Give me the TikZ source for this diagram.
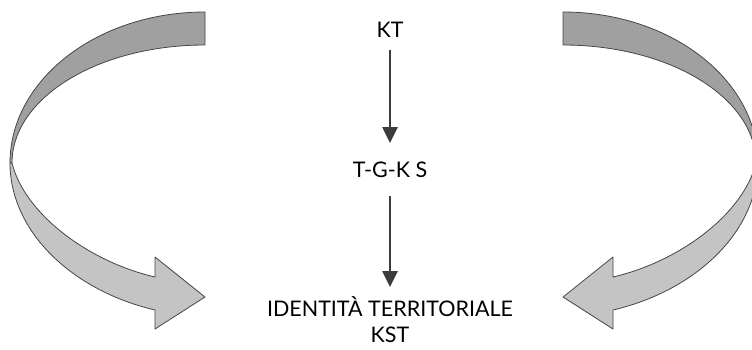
\documentclass[tikz,border=0pt]{standalone}
\usepackage{fontspec}
\setmainfont{Lato}
\usetikzlibrary{arrows.meta}
\definecolor{darkband}{HTML}{A0A0A0}
\definecolor{lightband}{HTML}{C4C4C4}
\definecolor{edge}{HTML}{454545}
\definecolor{arr}{HTML}{3C3C3C}
\tikzset{
  band/.style={draw=edge, line width=0.8pt, line join=round},
  label/.style={font=\fontsize{21.5}{26}\selectfont, text=black, align=center, inner sep=0pt},
  flow/.style={draw=arr, line width=2.6pt, -{Triangle[width=15pt,length=16pt]}}
}
\begin{document}
\begin{tikzpicture}[x=1pt,y=-1pt]
\useasboundingbox (0,0) rectangle (752,349);
\clip (0,0) rectangle (752,349);
% left curved arrow
\path[band, fill=darkband] (205,12) .. controls (97,12) and (10,80) .. (10,163)
  -- (12,163) .. controls (12,98) and (98,45) .. (205,45) -- cycle;
\path[band, fill=lightband] (12,163) .. controls (25,215) and (90,262) .. (155,277)
  -- (155,257) -- (205,297) -- (155,329) -- (155,310)
  .. controls (70,290) and (10,230) .. (10,163) -- cycle;
% right curved arrow (mirror)
\begin{scope}[xshift=768pt, x=-1pt]
\path[band, fill=darkband] (205,12) .. controls (97,12) and (10,80) .. (10,163)
  -- (12,163) .. controls (12,98) and (98,45) .. (205,45) -- cycle;
\path[band, fill=lightband] (12,163) .. controls (25,215) and (90,262) .. (155,277)
  -- (155,257) -- (205,297) -- (155,329) -- (155,310)
  .. controls (70,290) and (10,230) .. (10,163) -- cycle;
\end{scope}
% labels
\node[label, anchor=base] (kt) at (390,37) {KT};
\node[label, anchor=base] (tgks) at (390,177) {T-G-K S};
\node[label, anchor=south] (id) at (390,343) {IDENTITÀ TERRITORIALE\\KST};
\coordinate (a1s) at (390,50);
\coordinate (a1e) at (390,143);
\coordinate (a2s) at (390,196);
\coordinate (a2e) at (390,287);
\draw[flow] (kt.south |- a1s) -- (kt.south |- a1e);
\draw[flow] (tgks.south |- a2s) -- (tgks.south |- a2e);
\end{tikzpicture}
\end{document}
